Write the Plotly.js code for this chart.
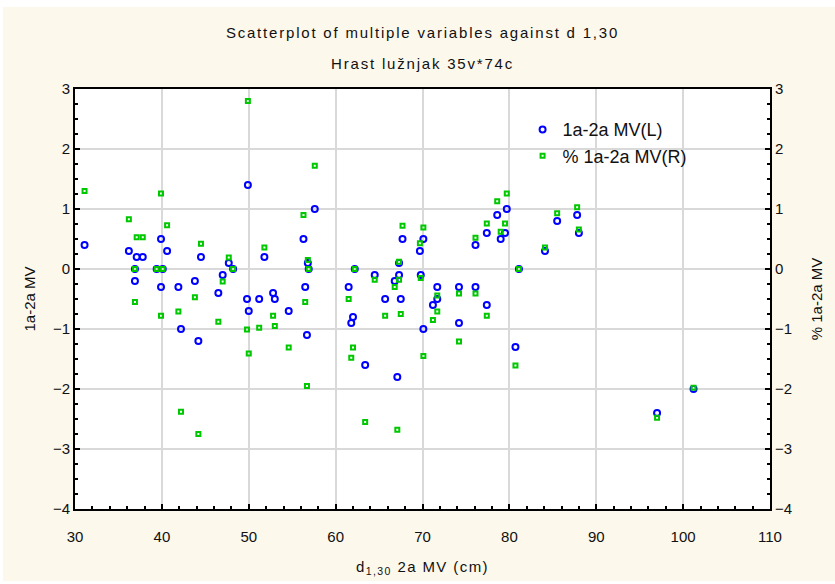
<!DOCTYPE html>
<html>
<head>
<meta charset="utf-8">
<script src="https://cdn.plot.ly/plotly-3.0.1.min.js"></script>
<style>
html,body{margin:0;padding:0;background:#ffffff;}
#chart{position:absolute;left:3px;top:7px;width:832px;height:574px;}
#chart .gtitle, #chart .annotation-text{letter-spacing:1.8px;}
#chart .xtitle{letter-spacing:1.4px;}
</style>
</head>
<body>
<div id="chart"></div>
<script>
// d1,30 2a MV (cm)
const d = [31.1,36.2,36.9,36.9,37.1,37.8,39.4,39.9,39.9,40.1,
           40.6,41.9,42.2,43.8,44.2,44.5,46.5,47.0,47.7,48.2,
           49.9,49.8,50.0,51.2,51.8,52.8,53.0,54.6,56.3,56.5,
           56.7,56.8,56.9,57.6,61.5,61.8,62.0,62.2,63.4,64.5,
           65.7,66.8,67.1,67.3,67.3,67.5,67.7,69.7,69.8,70.1,
           70.1,71.2,71.7,71.7,74.2,74.2,76.1,76.1,77.4,77.4,
           78.6,79.0,79.5,79.7,80.7,81.1,84.1,85.5,87.8,88.0,
           97.0,101.2];
// 1a-2a MV (left axis)
const mvL = [0.4,0.3,0.0,-0.2,0.2,0.2,0.0,0.5,-0.3,0.0,
             0.3,-0.3,-1.0,-0.2,-1.2,0.2,-0.4,-0.1,0.1,0.0,
             1.4,-0.5,-0.7,-0.5,0.2,-0.4,-0.5,-0.7,0.5,-0.3,
             -1.1,0.1,0.0,1.0,-0.3,-0.9,-0.8,0.0,-1.6,-0.1,
             -0.5,-0.2,-1.8,0.1,-0.1,-0.5,0.5,0.3,-0.1,0.5,
             -1.0,-0.6,-0.3,-0.5,-0.3,-0.9,-0.3,0.4,0.6,-0.6,
             0.9,0.5,0.6,1.0,-1.3,0.0,0.3,0.8,0.9,0.6,
             -2.4,-2.0];
// % 1a-2a MV (right axis)
const pctR = [1.3,0.83,0.0,-0.55,0.53,0.53,0.0,1.26,-0.78,0.0,
              0.73,-0.71,-2.38,-0.47,-2.75,0.42,-0.88,-0.21,0.19,0.0,
              2.8,-1.01,-1.41,-0.98,0.36,-0.78,-0.95,-1.31,0.9,-0.55,
              -1.95,0.15,0.0,1.72,-0.5,-1.48,-1.31,0.0,-2.55,-0.18,
              -0.78,-0.3,-2.68,0.12,-0.18,-0.75,0.72,0.43,-0.15,0.69,
              -1.45,-0.85,-0.44,-0.71,-0.41,-1.21,-0.41,0.52,0.76,-0.78,
              1.13,0.62,0.76,1.26,-1.61,0.0,0.36,0.93,1.03,0.66,
              -2.48,-1.98];

const seriesNames = ["1a-2a MV(L)", "% 1a-2a MV(R)"];
const titleLine1 = "Scatterplot of multiple variables against d 1,30";
const titleLine2 = "Hrast lužnjak 35v*74c";
const xTitle = "d<sub>1,30</sub> 2a MV (cm)";
const yLeftTitle = "1a-2a MV";
const yRightTitle = "% 1a-2a MV";

const FONT = "Liberation Sans, Arial, sans-serif";

const traces = [
  {x: d, y: mvL, name: seriesNames[0], type: "scatter", mode: "markers", yaxis: "y",
   marker: {symbol: "circle-open", size: 6, color: "#0000ff", line: {width: 2, color: "#0000ff"}}},
  {x: d, y: pctR, name: seriesNames[1], type: "scatter", mode: "markers", yaxis: "y2",
   marker: {symbol: "square-open", size: 4, color: "#00c800", line: {width: 2, color: "#00c800"}}}
];

const axisCommon = {
  showline: true, linecolor: "#000", linewidth: 2, mirror: false,
  ticks: "inside", ticklen: 5, tickwidth: 2, tickcolor: "#000",
  showgrid: true, gridcolor: "#d9d9d9", gridwidth: 2,
  zeroline: false, tickfont: {family: FONT, size: 15, color: "#111"}
};

const layout = {
  paper_bgcolor: "#fdf8ec",
  plot_bgcolor: "#ffffff",
  margin: {l: 72, r: 65, t: 82, b: 72},
  showlegend: true,
  title: {text: titleLine1, font: {family: FONT, size: 15, color: "#111"},
          x: 0.5, xref: "paper", xanchor: "center", y: 1 - 26/574, yref: "container", yanchor: "middle"},
  annotations: [
    {text: titleLine2, showarrow: false, xref: "paper", yref: "paper", x: 0.5, y: (502-56)/420,
     xanchor: "center", yanchor: "middle", font: {family: FONT, size: 15, color: "#111"}}
  ],
  xaxis: Object.assign({}, axisCommon, {
    range: [30, 110], dtick: 10, tick0: 30,
    minor: {dtick: 2, ticks: "inside", ticklen: 3, tickcolor: "#000", tickwidth: 2, showgrid: false},
    tickfont: {family: FONT, size: 15, color: "#111"},
    ticklabelstandoff: 13,
    title: {text: xTitle, font: {family: FONT, size: 15, color: "#111"}, standoff: 17},
    mirror: true
  }),
  yaxis: Object.assign({}, axisCommon, {
    range: [-4, 3], dtick: 1, tick0: -4,
    minor: {dtick: 0.25, ticks: "inside", ticklen: 3, tickcolor: "#000", tickwidth: 2, showgrid: false},
    title: {text: yLeftTitle, font: {family: FONT, size: 15, color: "#111"}, standoff: 14}
  }),
  yaxis2: Object.assign({}, axisCommon, {
    range: [-4, 3], dtick: 1, tick0: -4, overlaying: "y", side: "right", showgrid: false,
    minor: {dtick: 0.25, ticks: "inside", ticklen: 3, tickcolor: "#000", tickwidth: 2, showgrid: false},
    title: {text: yRightTitle, font: {family: FONT, size: 15, color: "#111"}, standoff: 20}
  }),
  legend: {x: 0.644, y: 0.947, xanchor: "left", yanchor: "top", bgcolor: "rgba(0,0,0,0)",
           font: {family: FONT, size: 18, color: "#111"}, itemwidth: 30, tracegroupgap: 0}
};

Plotly.newPlot("chart", traces, layout, {displayModeBar: false, staticPlot: true});
</script>
</body>
</html>
